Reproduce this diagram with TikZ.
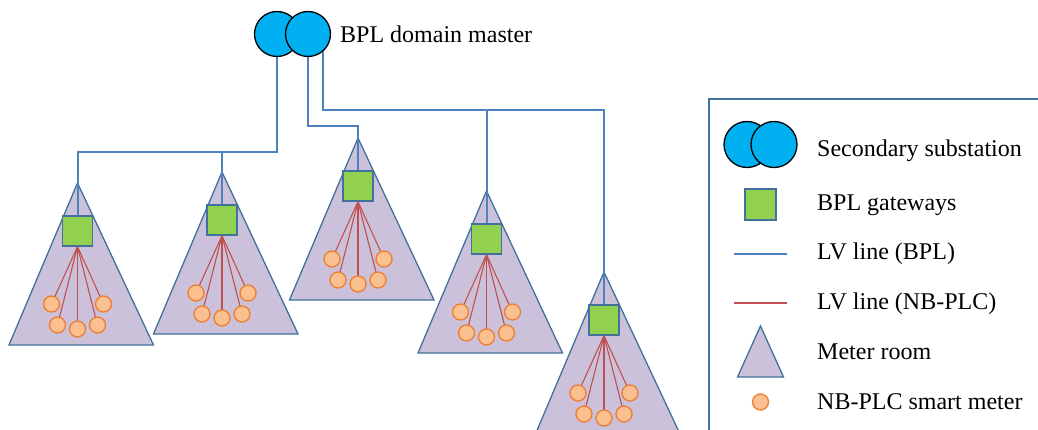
\documentclass[tikz,border=0pt]{standalone}
\usepackage{fontspec}
\setmainfont{Liberation Serif}
\pgfdeclarelayer{rooms}
\pgfdeclarelayer{wires}
\pgfsetlayers{rooms,wires,main}
\definecolor{subblue}{HTML}{00B0F0}
\definecolor{gwgreen}{HTML}{92D050}
\definecolor{edgeblue}{HTML}{41719C}
\definecolor{bplblue}{HTML}{4F81BD}
\definecolor{plcred}{HTML}{C0504D}
\definecolor{roomfill}{HTML}{CCC1DA}
\definecolor{meterfill}{HTML}{FAC090}
\definecolor{meteredge}{HTML}{ED7D31}
\tikzset{
  substation/.style={circle, draw=black, line width=1.3pt, fill=subblue, minimum size=45pt, inner sep=0pt},
  gateway/.style={rectangle, draw=edgeblue, line width=1.3pt, fill=gwgreen, minimum size=30pt, inner sep=0pt},
  meter/.style={circle, draw=meteredge, line width=1.3pt, fill=meterfill, minimum size=16pt, inner sep=0pt},
  room/.style={draw=edgeblue, line width=1.3pt, fill=roomfill},
  bpl/.style={draw=bplblue, line width=2pt},
  plc/.style={draw=plcred, line width=1.1pt},
  lbl/.style={font=\fontsize{24pt}{28pt}\selectfont, inner sep=0pt, anchor=base west},
}
\begin{document}
\begin{tikzpicture}[x=1pt,y=-1pt]
\useasboundingbox (0,0) rectangle (1038,430);
\clip (0,0) rectangle (1038,430);
% meter rooms with gateways and smart meters
\foreach \i/\ax/\ay in {1/77.5/183,2/222/172,3/358/138,4/486.5/191,5/604/272}{
  \begin{pgfonlayer}{rooms}
    \path[room] (\ax,\ay) -- (\ax-68.5,\ay+162) -- (\ax+76,\ay+162) -- cycle;
  \end{pgfonlayer}
  \node[gateway] (g\i) at (\ax,\ay+48) {};
  \node[meter] (m\i a) at (\ax-26,\ay+121) {};
  \node[meter] (m\i b) at (\ax+26,\ay+121) {};
  \node[meter] (m\i c) at (\ax-20,\ay+142) {};
  \node[meter] (m\i d) at (\ax,\ay+146) {};
  \node[meter] (m\i e) at (\ax+20,\ay+142) {};
  \begin{pgfonlayer}{wires}
    \foreach \k in {a,b,c,d,e}{
      \draw[plc] (g\i.south) -- (m\i\k.center);
    }
  \end{pgfonlayer}
}
% domain master
\node[substation] (s1) at (277,34) {};
\node[substation] (s2) at (308,34) {};
\node[lbl] (master) at (340,43) {BPL domain master};
% BPL lines
\coordinate (j1) at (77.5,152);
\coordinate (j2) at (222,152);
\coordinate (k1) at (358,126);
\coordinate (l1) at (486.5,110);
\coordinate (l2) at (604,110);
\begin{pgfonlayer}{wires}
\draw[bpl] (s1.center) |- (j1) -- (g1.center);
\draw[bpl] (j2) -- (g2.center);
\draw[bpl] (s2.center) |- (k1) -- (g3.center);
\draw[bpl] (s2.-48) |- (l2) -- (g5.center);
\draw[bpl] (l1) -- (g4.center);
\end{pgfonlayer}
% legend
\draw[draw=edgeblue, line width=1.3pt] (709,460) -- (709,99) -- (1060,99);
\node[substation, minimum size=46pt] (ls1) at (747,144.5) {};
\node[substation, minimum size=46pt] (ls2) at (774,144.5) {};
\node[lbl] (t1) at (817,157) {Secondary substation};
\node[gateway, minimum size=31pt] (lg) at (760.5,204.5) {};
\node[lbl] (t2) at (817,210.5) {BPL gateways};
\coordinate (lb1) at (734,254);
\coordinate (lb2) at (787,254);
\draw[bpl] (lb1) -- (lb2);
\node[lbl] (t3) at (817,260) {LV line (BPL)};
\coordinate (lr1) at (734,303);
\coordinate (lr2) at (787,303);
\draw[plc] (lr1) -- (lr2);
\node[lbl] (t4) at (817,309.5) {LV line (NB-PLC)};
\path[room] (760.5,326) -- (737.5,377) -- (783.5,377) -- cycle;
\node[lbl] (t5) at (817,359.5) {Meter room};
\node[meter] (lm) at (760.5,402) {};
\node[lbl] (t6) at (817,409.5) {NB-PLC smart meter};
\end{tikzpicture}
\end{document}
